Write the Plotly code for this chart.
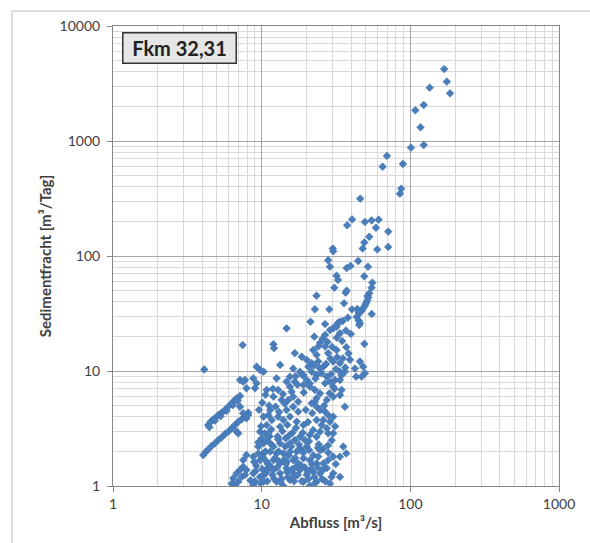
import plotly.graph_objects as go

# ---- data (Abfluss [m3/s], Sedimentfracht [m3/Tag]) ----
q_high = [169, 176, 185, 135, 123, 108, 117, 123, 101, 69.6, 65.1, 89.2, 86.9, 85.1, 46,
          37.6, 40.6, 49.5, 54.9, 61.2, 58.7, 52.9, 71, 71, 59.9, 49, 47.8, 30.1, 30.3, 28,
          28.8, 37.3, 39.6, 44.6, 51.9, 49, 31.9, 32.6, 30.8, 55.5, 54.9, 52.9, 36.7, 37.3, 23.4, 51.5]
s_high = [4225, 3280, 2600, 2910, 2056, 1850, 1315, 923, 875, 741, 598, 631, 385, 348, 315,
          185, 208, 198, 204, 207, 176, 147, 163, 120, 114, 131, 116, 116, 110, 91.8,
          80.7, 78.5, 82, 90.5, 80.7, 66.6, 67.4, 61.9, 53, 58.6, 53, 47.4, 48, 50, 45.2, 44.9]

q_mid = [52.1, 51.3, 50.3, 49.5, 48.2, 47, 45.3, 35.8, 44, 45, 43.5, 45, 45.8, 45.3, 40.5,
         38, 35.1, 32.7, 31.9, 31.1, 30.3, 28.8, 26.7, 25.7, 24.7, 24, 28.5, 22.8, 21.3, 22.6,
         14.7, 55, 39.8, 49.1, 37.1, 26.7, 33.6, 33.6]
s_mid = [43.5, 40.9, 38.8, 37, 35.2, 33.4, 31.7, 38.8, 34.6, 32.6, 29.5, 27.4, 26, 25.1, 34.4,
         29.1, 27.2, 26.3, 24.3, 24.3, 23.5, 22.7, 20.6, 19.1, 17.6, 16.3, 34.4, 34.4, 26.8, 19.9,
         23.5, 31.3, 21, 17.2, 16.1, 25.6, 26.8, 21.3]

q_cloud = [26.7, 22.2, 28, 31.9, 23.4,
           16.7, 18.6, 20.1, 21.7, 20.6, 24, 26, 30.3, 33.6, 39.3,
           13.3, 16.3, 18.1, 19.1, 15.5, 14.7, 16.7, 15.5,
           12.6, 12.9, 10.8, 12, 13.6, 15.1,
           21.7, 23.4, 25.3, 27.4, 28.8, 31.1, 33.6, 33.6, 30.3, 26.7,
           20.1, 19.1, 21.1, 22.8, 24.7, 23.4, 27.4, 30.3, 33.6, 36.3,
           16.3, 17.6, 16.3, 14.7, 17.6, 15.5, 14, 17.2, 19.1,
           11.4, 11.1, 11.7, 10.8, 12.9, 13.3,
           7.45, 12, 12.1,
           21.7, 23.4, 24.7, 26.7, 28, 30.3, 26, 23.4, 28.8, 25.3, 27.4, 30.3, 28, 24.7, 22.2, 21.1, 23.4,
           36.3, 42.4, 48.2, 45.8, 49.5, 43.2, 47, 34.5,
           9.25, 9.75, 10.3, 8.78, 9.25, 9.02, 7.15, 7.73, 7.52, 7.9]
s_cloud = [16.3, 15.2, 14.3, 15.2, 13.8,
           14.3, 13.3, 12.5, 11.7, 10.9, 12.1, 10.9, 12.1, 11.7, 12.5,
           11.3, 10.5, 9.86, 9.23, 8.92, 8.07, 8.07, 7.3,
           8.64, 6.84, 6.84, 5.98, 5.6, 5.6,
           9.86, 9.23, 9.55, 8.92, 8.07, 8.35, 9.86, 8.35, 7.3, 7.82,
           8.35, 7.56, 7.3, 6.84, 6.4, 5.79, 5.6, 5.98, 6.18, 4.89,
           5.98, 5.41, 4.89, 4.58, 4.43, 4.01, 3.75, 3.62, 3.39,
           4.58, 4.14, 3.75, 3.39, 4.01, 3.28,
           16.8, 17.1, 15.8,
           5.24, 4.89, 4.58, 4.43, 4.14, 4.01, 3.75, 3.75, 3.62, 3.39, 3.18, 2.87, 2.87, 2.97, 3.07, 2.78, 2.68,
           9.86, 10.5, 10.9, 12.1, 9.55, 8.92, 8.92, 6.84,
           10.9, 10.2, 9.86, 8.64, 7.82, 7.08, 8.35, 8.35, 8.07, 7.08]

q_low = [9.75, 10.5, 10, 10.8, 10.3, 9.49, 11.4, 12, 13.3, 14.4, 15.5, 16.7, 18.1, 19.5, 20.1,
         18.6, 17.2, 15.5, 14, 12.6, 11.4, 10.3, 9.49,
         35.4, 37.1, 33.6, 30.3, 28, 26, 23.4, 21.1, 19.1, 17.6, 16.3, 14.7, 13.3, 12, 10.8,
         9.75, 8.78, 7.9, 7.52,
         7.9, 8.78, 9.75, 10.8, 12, 13.3, 14.7, 16.3, 18.1, 20.1, 22.2, 24.7, 27.4, 30.3,
         10.3, 12.6, 15.5, 19.1, 23.4, 28.8, 33.6, 8.78, 14, 21.1,
         6.44, 6.79, 7.15, 7.52, 6.96, 6.61, 7.34, 7.73, 6.29]
s_low = [2.97, 2.87, 2.6, 2.51, 2.35, 2.2, 2.35, 2.2, 2.35, 2.2, 2.35, 2.51, 2.68, 2.51, 2.2,
         2.06, 1.99, 1.99, 1.92, 1.92, 1.99, 1.92, 1.92,
         2.2, 1.92, 1.8, 1.8, 1.68, 1.57, 1.57, 1.68, 1.74, 1.57, 1.68, 1.63, 1.57, 1.68, 1.63,
         1.68, 1.8, 1.86, 1.68,
         1.38, 1.29, 1.2, 1.33, 1.38, 1.29, 1.43, 1.29, 1.38, 1.25, 1.33, 1.29, 1.43, 1.29,
         1.09, 1.09, 1.13, 1.09, 1.09, 1.05, 1.2, 1.02, 1.0, 1.0,
         1.17, 1.29, 1.38, 1.47, 1.09, 1.02, 1.2, 1.25, 1.05]

q_fill = [9.2, 9.5, 10.1, 10.6, 11.0, 11.3, 11.8, 9.0, 10.4, 12.3, 11.6, 9.9, 12.8, 10.9,
          12.7, 13.0, 13.6, 14.2, 14.5, 15.0, 15.2, 15.8, 16.0, 16.5, 16.8, 17.5, 17.8, 13.8, 14.9,
          16.1, 17.0, 12.4, 13.9, 15.9, 17.4, 18.8, 16.9, 14.3, 13.1,
          18.6, 19.5, 20.6, 21.5, 22.6, 23.8, 18.9, 20.5, 21.9, 19.8, 22.8, 24.2, 20.8, 22.3, 24.0,
          19.2, 21.1, 23.0, 24.5, 22.5,
          25.5, 26.8, 29.5, 31.5, 25.9, 27.9, 29.6, 31.2, 26.3, 28.6, 30.9, 29.4, 27.1, 31.6, 34.5,
          32.2, 29.0, 36.5, 35.2, 38.4, 34.8, 32.0, 36.9, 27.7, 29.8,
          10.1, 10.6, 11.2, 9.6, 11.9, 10.3,
          8.4, 9.1, 9.8, 10.9, 12.1, 13.4, 14.8, 16.4, 18.3, 20.4, 22.9, 25.8,
          8.9, 10.2, 11.5, 13.0, 14.6, 16.9, 19.0, 21.8, 24.8, 28.1,
          11.1, 12.9, 15.3, 17.9, 20.9, 23.9]
s_fill = [1.5, 2.4, 1.4, 2.0, 1.55, 2.7, 1.25, 1.1, 1.25, 1.75, 3.1, 3.3, 2.7, 1.1,
          1.45, 2.0, 1.15, 1.7, 2.6, 1.2, 1.85, 2.2, 1.4, 1.1, 1.75, 1.25, 2.3, 3.0, 3.4,
          2.9, 3.2, 4.9, 6.3, 6.6, 7.6, 9.2, 9.0, 5.2, 4.4,
          1.1, 1.45, 1.15, 1.4, 1.2, 1.45, 2.9, 3.6, 4.3, 4.6, 5.4, 2.3, 2.45, 1.85, 1.8,
          6.5, 7.8, 8.6, 10.6, 11.2,
          1.15, 1.1, 1.2, 1.55, 2.1, 2.25, 2.5, 3.3, 5.0, 6.4, 7.0, 9.4, 11.5, 10.4, 9.2,
          13.2, 12.8, 10.7, 12.9, 14.2, 18.2, 19.5, 22.5, 17.9, 16.2,
          5.3, 6.2, 5.0, 4.6, 7.0, 4.0,
          1.12, 1.35, 1.06, 1.42, 1.16, 1.08, 1.33, 1.18, 1.52, 1.32, 1.06, 1.38,
          1.62, 1.78, 1.48, 1.65, 1.56, 1.46, 1.95, 1.55, 2.05, 1.95,
          2.85, 2.55, 2.75, 2.1, 2.05, 2.15]

q_bands = [4.37, 4.54, 4.73, 4.98, 5.19, 5.38, 5.66, 5.96, 6.29, 6.54, 6.79, 7.15,
           4.45, 4.85, 5.3, 5.8, 6.4, 6.9,
           4.05, 4.22, 4.37, 4.61, 4.85, 5.11, 5.38, 5.66, 5.96, 6.29, 6.61, 6.96, 7.34, 7.73, 8.13,
           7.15, 7.52, 7.9, 8.1, 6.79, 6.96, 4.11]
s_bands = [3.39, 3.62, 3.8, 4.01, 4.2, 4.34, 4.58, 4.89, 5.24, 5.52, 5.79, 6.06,
           3.25, 3.7, 4.05, 4.5, 5.05, 5.5,
           1.86, 1.99, 2.08, 2.23, 2.35, 2.51, 2.65, 2.83, 2.97, 3.18, 3.39, 3.62, 3.8, 4.06, 4.34,
           4.89, 4.29, 3.88, 4.14, 2.97, 2.87, 10.3]

x_ticks = [1, 10, 100, 1000]
x_ticklabels = ["1", "10", "100", "1000"]
y_ticks = [1, 10, 100, 1000, 10000]
y_ticklabels = ["1", "10", "100", "1000", "10000"]

abfluss = q_high + q_mid + q_cloud + q_low + q_fill + q_bands
fracht = s_high + s_mid + s_cloud + s_low + s_fill + s_bands

FONT = "Lato"
TXT = "#404040"
MAJOR = "#a6a6a6"
MINOR = "#d9d9d9"

fig = go.Figure()
fig.add_trace(go.Scatter(
    x=abfluss, y=fracht, mode="markers",
    marker=dict(symbol="diamond", size=6, color="#4A7EBB",
                line=dict(color="#4070B0", width=0.5)),
    showlegend=False, cliponaxis=True,
))

axis_common = dict(
    type="log", showgrid=True, gridcolor=MAJOR, gridwidth=1,
    showline=True, linecolor="#868686", linewidth=1, mirror=True,
    ticks="outside", ticklen=5, tickcolor="#868686",
    tickfont=dict(family=FONT, size=14, color=TXT),
    minor=dict(dtick="D1", showgrid=True, gridcolor=MINOR, gridwidth=1, ticks=""),
    zeroline=False,
)

fig.update_xaxes(**axis_common, range=[0, 3], tickvals=x_ticks, ticktext=x_ticklabels,
                 title=dict(text="<b>Abfluss [m³/s]</b>", font=dict(family=FONT, size=15, color=TXT),
                            standoff=6))
fig.update_yaxes(**axis_common, range=[0, 4], tickvals=y_ticks, ticktext=y_ticklabels,
                 ticklabelstandoff=4,
                 title=dict(text="<b>Sedimentfracht [m³/Tag]</b>", font=dict(family=FONT, size=15, color=TXT),
                            standoff=4))

fig.update_layout(
    width=590, height=543,
    margin=dict(l=113, r=31, t=26, b=57),
    paper_bgcolor="white", plot_bgcolor="white",
    font=dict(family=FONT, color=TXT),
    annotations=[dict(
        text="<b>Fkm 32,31</b>", xref="paper", yref="paper",
        x=0.02, y=0.987, xanchor="left", yanchor="top",
        showarrow=False, font=dict(family=FONT, size=20, color="#222222"),
        bgcolor="#e6e6e6", bordercolor="#333333", borderwidth=1.5, borderpad=0,
        width=112, height=29,
    )],
    shapes=[
        dict(type="line", xref="paper", yref="paper", x0=-0.2265, x1=1.08, y0=1.0326, y1=1.0326,
             line=dict(color="#d0d0d0", width=1.5)),
        dict(type="line", xref="paper", yref="paper", x0=-0.2265, x1=-0.2265, y0=1.0326, y1=-0.13,
             line=dict(color="#d0d0d0", width=1.5)),
    ],
)

fig.write_html("out.html")
